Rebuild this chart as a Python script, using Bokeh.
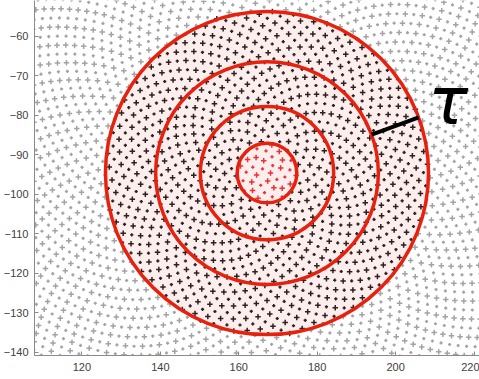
import numpy as np
from bokeh.plotting import figure
from bokeh.models import FixedTicker, Range1d
from bokeh.core.properties import value
from bokeh.embed import file_html
from bokeh.resources import INLINE

# Centre of the ring system and the radii of the four rings
ring_center = [167.2, -94.6]
ring_radii = [7.6, 17.0, 28.4, 41.2]

# Annotated band (between the third and fourth ring) and its label
tau_angle_deg = [20.0]
tau_label = ["τ"]
tau_label_pos = [213.4, -76.4]

# Sample layout: sunflower seed spacing and count
seed_spacing = [1.27]
seed_count = [4200]
marker_sizes = [5.5, 3.2]

# Axis ticks
x_ticks = [120, 140, 160, 180, 200, 220]
y_ticks = [-140, -130, -120, -110, -100, -90, -80, -70, -60]

x_range = [107.9, 221.4]
y_range = [-140.8, -50.9]

cx, cy = ring_center
golden = np.pi * (3.0 - np.sqrt(5.0))
k = np.arange(seed_count[0])
rr = seed_spacing[0] * np.sqrt(k + 0.5)
th = k * golden
sx = cx + rr * np.cos(th)
sy = cy + rr * np.sin(th)
sz = np.where(k % 2 == 0, marker_sizes[0], marker_sizes[1])
keep = (sx > x_range[0] - 1) & (sx < x_range[1] + 1) & (sy > y_range[0] - 1) & (sy < y_range[1] + 1)
sx, sy, rr, sz = sx[keep], sy[keep], rr[keep], sz[keep]

inner = rr < ring_radii[0]
disc = (rr < ring_radii[-1]) & ~inner
outside = rr >= ring_radii[-1]

p = figure(width=479, height=379, output_backend="svg", toolbar_location=None,
           x_range=Range1d(*x_range), y_range=Range1d(*y_range),
           min_border_left=32, min_border_right=0, min_border_top=0, min_border_bottom=24)
p.outline_line_color = None
p.grid.visible = False
p.background_fill_color = "white"
p.border_fill_color = "white"

for ax in (p.xaxis[0], p.yaxis[0]):
    ax.axis_line_color = "#8a8a8a"
    ax.major_tick_line_color = "#8a8a8a"
    ax.major_tick_in = 4
    ax.major_tick_out = 0
    ax.minor_tick_line_color = None
    ax.major_label_text_font = "Liberation Sans"
    ax.major_label_text_font_size = "11px"
    ax.major_label_text_color = "#404040"
p.xaxis.ticker = FixedTicker(ticks=x_ticks)
p.yaxis.ticker = FixedTicker(ticks=y_ticks)
p.xaxis.major_label_standoff = 7
p.yaxis.major_label_standoff = 6

# Shaded disc
p.circle(x=[cx], y=[cy], radius=ring_radii[-1], fill_color="#fdeeee", line_color=None)

# Samples
p.scatter(sx[outside], sy[outside], marker="cross", size=sz[outside], line_width=1.5,
          line_color="#a3a3a3")
p.scatter(sx[disc], sy[disc], marker="cross", size=sz[disc], line_width=1.5,
          line_color="#2e2020")
p.scatter(sx[inner], sy[inner], marker="cross", size=sz[inner], line_width=1.5,
          line_color="#ee3035")

# Rings
p.circle(x=[cx] * len(ring_radii), y=[cy] * len(ring_radii), radius=ring_radii,
         fill_color=None, line_color="#e8200e", line_width=3.5)

# Band width marker
a = np.deg2rad(tau_angle_deg[0])
r0, r1 = ring_radii[2], ring_radii[3]
p.segment(x0=[cx + r0 * np.cos(a)], y0=[cy + r0 * np.sin(a)],
          x1=[cx + r1 * np.cos(a)], y1=[cy + r1 * np.sin(a)],
          line_color="black", line_width=4)

p.text(x=[tau_label_pos[0]], y=[tau_label_pos[1]], text=tau_label,
       text_font=value("DejaVu Sans"), text_font_style="italic",
       text_font_size="66px", text_align="center", text_baseline="alphabetic",
       text_color="black")

open("out.html", "w").write(file_html(p, INLINE))
